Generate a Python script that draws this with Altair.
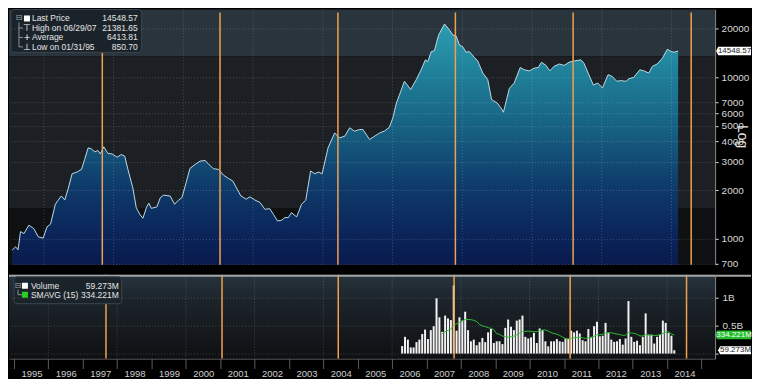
import altair as alt
import pandas as pd

# ---------------- data ----------------
price_t = [1995.09, 1995.19, 1995.26, 1995.33, 1995.43, 1995.57, 1995.71, 1995.84, 1995.98,
           1996.09, 1996.19, 1996.33, 1996.41, 1996.50, 1996.60, 1996.70, 1996.81, 1996.95,
           1997.08, 1997.17, 1997.27, 1997.36, 1997.46, 1997.55, 1997.62, 1997.72, 1997.84, 1997.95,
           1998.10, 1998.22, 1998.32, 1998.41, 1998.55, 1998.65, 1998.75, 1998.84, 1998.94,
           1999.01, 1999.08, 1999.24, 1999.34, 1999.43, 1999.62, 1999.75, 1999.86, 1999.96,
           2000.08, 2000.19, 2000.34, 2000.48, 2000.62, 2000.72, 2000.86,
           2001.01, 2001.15, 2001.29, 2001.42, 2001.51, 2001.65, 2001.80, 2001.91,
           2002.05, 2002.20, 2002.34, 2002.48, 2002.58, 2002.70, 2002.82, 2002.91,
           2003.01, 2003.10, 2003.25, 2003.39, 2003.51, 2003.65, 2003.77, 2003.88, 2003.98,
           2004.15, 2004.34, 2004.48, 2004.63, 2004.77, 2004.91,
           2005.06, 2005.15, 2005.34, 2005.63, 2005.77, 2005.91,
           2006.01, 2006.11, 2006.20, 2006.34, 2006.52, 2006.68, 2006.82, 2006.94,
           2007.01, 2007.11, 2007.20, 2007.32, 2007.49, 2007.63, 2007.73, 2007.82, 2007.92,
           2008.01, 2008.11, 2008.20, 2008.35, 2008.44, 2008.59, 2008.73, 2008.84, 2009.00,
           2009.11, 2009.18, 2009.35, 2009.49, 2009.66, 2009.78, 2009.92,
           2010.06, 2010.18, 2010.27, 2010.40, 2010.51, 2010.63, 2010.78, 2010.92,
           2011.06, 2011.21, 2011.40, 2011.49, 2011.61, 2011.76, 2011.88,
           2012.02, 2012.18, 2012.30, 2012.43, 2012.54, 2012.69, 2012.78, 2012.92,
           2013.09, 2013.21, 2013.35, 2013.45, 2013.59, 2013.74, 2013.88, 2013.99,
           2014.07, 2014.19]
price_v = [851, 893, 855, 1109, 1078, 1215, 1158, 1029, 1010,
           1186, 1232, 1638, 1735, 1843, 1741, 2055, 2530, 2592,
           2693, 3101, 3660, 3609, 3455, 3525, 3358, 3713, 3377, 3358,
           3203, 3328, 3250, 2693, 2073, 1560, 1420, 1342, 1560,
           1663, 1545, 1576, 1800, 1864, 1843, 1638, 1735, 1800,
           2228, 2732, 2891, 3028, 3058, 2913, 2717,
           2693, 2483, 2368, 2280, 2093, 1843, 1760, 1820,
           1741, 1677, 1524, 1538, 1420, 1291, 1304, 1354,
           1354, 1453, 1367, 1638, 1735, 2630, 2530, 2592, 2530,
           3660, 4527, 4219, 4322, 4870, 4640,
           4752, 4752, 4125, 4527, 4651, 4918,
           5627, 6938, 7809, 9450, 8409, 9679, 11130, 12825,
           12520, 14438, 14580, 18252, 21382, 19660, 18252, 18070, 15840,
           15480, 14290, 14438, 13260, 12640, 10620, 9680, 7280, 6938,
           6463, 6080, 8535, 9230, 11500, 11130, 10960,
           11390, 11500, 12400, 11850, 10960, 11690, 12090, 11850,
           12400, 12640, 12825, 12220, 10620, 8950, 9230,
           8600, 10380, 10130, 9450, 9540, 9450, 9810, 10000,
           11130, 10960, 10620, 11690, 12090, 13150, 14920, 14438,
           14290, 14549]

vol_first_month = "2006-04-01"
volume_b = [0.135, 0.30, 0.25, 0.11, 0.11, 0.205, 0.25, 0.35, 0.43, 0.26, 0.42, 0.49,
            0.99, 0.65, 0.39, 0.68, 0.63, 0.60, 1.22, 0.41, 0.65, 0.59, 0.75, 0.42,
            0.22, 0.25, 0.15, 0.205, 0.28, 0.205, 0.38, 0.44, 0.19, 0.22, 0.22, 0.17,
            0.46, 0.61, 0.48, 0.42, 0.59, 0.61, 0.68, 0.30, 0.27, 0.29, 0.37, 0.19,
            0.45, 0.42, 0.22, 0.13, 0.22, 0.22, 0.26, 0.22, 0.21, 0.27, 0.26, 0.41,
            0.38, 0.41, 0.36, 0.24, 0.22, 0.44, 0.29, 0.49, 0.57, 0.31, 0.32, 0.55,
            0.37, 0.25, 0.21, 0.22, 0.26, 0.16, 0.27, 0.94, 0.30, 0.21, 0.23, 0.15,
            0.30, 0.72, 0.34, 0.34, 0.18, 0.30, 0.34, 0.59, 0.55, 0.37, 0.32, 0.059]

orange_t = [1997.676, 2001.052, 2004.433, 2007.802, 2011.178, 2014.564]
year_ticks = list(range(1995, 2016))
grid_years = list(range(1996, 2016, 2))
price_ticks = [700, 1000, 2000, 3000, 4000, 5000, 6000, 7000, 10000, 20000]
vol_ticks = [0, 0.5, 1]

legend_labels = ["Last Price", "High on 06/29/07", "Average", "Low on 01/31/95"]
legend_values = ["14548.57", "21381.65", "6413.81", "850.70"]
price_last = 14548.57
vol_legend_labels = ["Volume", "SMAVG (15)"]
vol_legend_values = ["59.273M", "334.221M"]
vol_last = [0.059273, 0.334221]

# ---------------- tables ----------------
price_df = pd.DataFrame({"t": price_t, "price": price_v})
months = pd.date_range(vol_first_month, periods=len(volume_b), freq="MS")
vol_df = pd.DataFrame({"t": months.year + (months.month - 0.5) / 12.0,
                       "vol": volume_b})
vol_df["zero"] = 0.0
orange_df = pd.DataFrame({"t": orange_t})
grid_df = pd.DataFrame({"t": grid_years})

FONT = "Liberation Sans, Arial, sans-serif"
W, PH, VH = 708, 256, 84
DUMMY = alt.Data(values=[{}])
TAG = "M-1,0L-0.88,-0.24L1,-0.24L1,0.24L-0.88,0.24Z"
LEG_FS = 8.5


def vtext(x, y, s, color="#e4e4e4", size=LEG_FS, align="left", font=FONT):
    return alt.Chart(DUMMY).mark_text(text=s, color=color, fontSize=size, align=align,
                                      baseline="middle", font=font).encode(
        x=alt.value(x), y=alt.value(y))


def vrect(x0, x1, y0, y1, **kw):
    return alt.Chart(DUMMY).mark_rect(**kw).encode(
        x=alt.value(x0), x2=alt.value(x1), y=alt.value(y0), y2=alt.value(y1))


def vrule(x0, x1, y0, y1, **kw):
    return alt.Chart(DUMMY).mark_rule(**kw).encode(
        x=alt.value(x0), x2=alt.value(x1), y=alt.value(y0), y2=alt.value(y1))


xs = alt.Scale(domain=[1995.0, 2015.25], nice=False, zero=False)
X_na = alt.X("t:Q", scale=xs, axis=None)

# ---------------- price panel ----------------
pscale = alt.Scale(type="log", domain=[691, 26290], nice=False)
p_axis = alt.Axis(orient="right", values=price_ticks, format="d", grid=True,
                  gridColor="#ffffff", gridOpacity=0.2, gridDash=[1, 2],
                  domainColor="#8a8a8a", tickSize=3, tickColor="#dddddd",
                  labelColor="#d8d8d8", labelFontSize=10, labelFont=FONT, labelPadding=3,
                  labelOverlap=False, title="Log", titleAngle=90, titleFontSize=14,
                  titleFontWeight="normal", titleColor="#e8e8e8", titleFont=FONT,
                  titleX=26, titleY=127, titleAlign="center", titleBaseline="middle",
                  zindex=1)
Yp = alt.Y("price:Q", scale=pscale, axis=p_axis, stack=None)

area_grad = alt.Gradient(gradient="linear", x1=0, x2=0, y1=0, y2=1, stops=[
    alt.GradientStop(color="#2c9db3", offset=0),
    alt.GradientStop(color="#1f8199", offset=0.2),
    alt.GradientStop(color="#165e80", offset=0.45),
    alt.GradientStop(color="#0e3a6a", offset=0.68),
    alt.GradientStop(color="#0a2459", offset=0.88),
    alt.GradientStop(color="#0a1a4c", offset=1)])

base_p = alt.Chart(price_df)
p_layers = [
    vrect(0, W, 0, 47, fill="#29343d"),
    vrect(0, W, 47, 199, fill="#1c2024"),
    vrect(0, W, 199, PH, fill="#0f1012"),
    base_p.mark_area(color=area_grad, opacity=1).encode(x=X_na, y=Yp, y2=alt.value(PH)),
    base_p.mark_line(color="#bcd9e3", strokeWidth=1).encode(x=X_na, y=Yp),
    alt.Chart(grid_df).mark_rule(color="white", opacity=0.2, strokeDash=[1, 2]).encode(x=X_na),
    alt.Chart(orange_df).mark_rule(color="#f3a04c", strokeWidth=1.5).encode(
        x=X_na, y=alt.value(3), y2=alt.value(PH)),
]
last_df = pd.DataFrame({"price": [price_last], "label": [legend_values[0]]})
p_layers += [
    alt.Chart(last_df).mark_point(shape=TAG, size=35 ** 2, filled=True, color="white",
                                  opacity=1).encode(x=alt.value(W + 18.5), y=Yp),
    alt.Chart(last_df).mark_text(color="#1a1a1a", fontSize=8, font=FONT).encode(
        x=alt.value(W + 19.5), y=Yp, text="label:N"),
]
# legend box
rows_y = [9, 18.5, 28, 37.5]
icons = [None, "\u22a4", "+", "\u22a5"]
p_layers += [vrect(2, 133, 0, 43, fill="#1b232a", stroke="#3a4650", strokeWidth=1, cornerRadius=3),
             vtext(10, rows_y[0], "\u229f", color="#9aa4ac", size=8, align="center", font="DejaVu Sans"),
             vrect(15, 21, rows_y[0] - 3, rows_y[0] + 3, fill="white"),
             vrule(10, 10, rows_y[0] + 4, rows_y[3], color="#8a949c")]
for i, (lab, val) in enumerate(zip(legend_labels, legend_values)):
    y = rows_y[i]
    if icons[i]:
        p_layers.append(vrule(10, 14, y, y, color="#8a949c"))
        p_layers.append(vtext(18, y, icons[i], color="white", size=9, align="center", font="DejaVu Sans"))
    p_layers.append(vtext(23, y, lab))
    p_layers.append(vtext(129, y, val, align="right"))

price_panel = alt.layer(*p_layers).properties(width=W, height=PH)

# ---------------- volume panel ----------------
vscale = alt.Scale(domain=[-0.089, 1.411], nice=False, zero=False)
v_axis = alt.Axis(orient="right", values=vol_ticks,
                  labelExpr="datum.value == 1 ? '1B' : (datum.value == 0.5 ? '0.5B' : '')",
                  grid=True, gridColor="#ffffff", gridOpacity=0.2, gridDash=[1, 2],
                  domainColor="#8a8a8a", tickSize=3, tickColor="#dddddd",
                  labelColor="#d8d8d8", labelFontSize=10, labelFont=FONT, labelPadding=4,
                  labelOverlap=False, title=None, zindex=1)
x_axis = alt.Axis(values=year_ticks,
                  labelExpr="datum.value < 2015 ? toString(datum.value) : ''",
                  labelOffset=17.48, tickSize=10, tickColor="#5c5c5c", domainColor="#6e6e6e",
                  labelColor="#cfcfcf", labelFontSize=9.5, labelFont=FONT, labelPadding=0,
                  labelFlush=False, labelOverlap=False, grid=False, title=None)
Xv = alt.X("t:Q", scale=xs, axis=x_axis)
Yv = alt.Y("vol:Q", scale=vscale, axis=v_axis)

vol_grad = alt.Gradient(gradient="linear", x1=0, x2=0, y1=0, y2=1, stops=[
    alt.GradientStop(color="#27343e", offset=0),
    alt.GradientStop(color="#1c242b", offset=0.3),
    alt.GradientStop(color="#15191d", offset=0.7),
    alt.GradientStop(color="#0e1012", offset=1)])

base_v = alt.Chart(vol_df)
v_layers = [
    vrect(0, W, 0, VH, fill=vol_grad),
    alt.Chart(grid_df).mark_rule(color="white", opacity=0.2, strokeDash=[1, 2]).encode(x=Xv),
    base_v.mark_bar(color="#f2f2f2", size=2).encode(x=Xv, y=Yv, y2="zero:Q"),
    base_v.transform_window(sma="mean(vol)", frame=[-14, 0], sort=[{"field": "t"}])
          .transform_window(idx="row_number()", sort=[{"field": "t"}])
          .transform_filter("datum.idx >= 15")
          .mark_line(color="#2fb832", strokeWidth=1).encode(x=Xv, y=alt.Y("sma:Q", scale=vscale, axis=v_axis)),
    alt.Chart(orange_df).mark_rule(color="#f3a04c", strokeWidth=1.5).encode(
        x=Xv, y=alt.value(0), y2=alt.value(VH)),
    vrule(0, 744, 1, 1, color="#a6a6a6", strokeWidth=2),
]
box_df = pd.DataFrame({"vol": vol_last, "label": vol_legend_values})
v_layers += [
    alt.Chart(box_df.iloc[[1]]).mark_point(shape=TAG, size=36 ** 2, filled=True, color="#22c02c",
                                           opacity=1).encode(x=alt.value(W + 18), y=Yv),
    alt.Chart(box_df.iloc[[1]]).mark_text(color="white", fontSize=8, font=FONT).encode(
        x=alt.value(W + 19), y=Yv, text="label:N"),
    alt.Chart(box_df.iloc[[0]]).mark_point(shape=TAG, size=33 ** 2, filled=True, color="white",
                                           opacity=1).encode(x=alt.value(W + 19.5), y=Yv),
    alt.Chart(box_df.iloc[[0]]).mark_text(color="#1a1a1a", fontSize=8, font=FONT).encode(
        x=alt.value(W + 20.5), y=Yv, text="label:N"),
]
vrows = [11, 20]
v_layers += [vrect(5, 113, 2, 29, fill="#1b232a", stroke="#3a4650", strokeWidth=1, cornerRadius=3),
             vtext(9, vrows[0], "\u229f", color="#9aa4ac", size=8, align="center", font="DejaVu Sans"),
             vrect(13, 19, vrows[0] - 3, vrows[0] + 3, fill="white"),
             vrect(13, 19, vrows[1] - 3, vrows[1] + 3, fill="#25d125"),
             vrule(9, 9, vrows[0] + 4, vrows[1], color="#8a949c"),
             vrule(9, 13, vrows[1], vrows[1], color="#8a949c")]
for i, (lab, val) in enumerate(zip(vol_legend_labels, vol_legend_values)):
    v_layers.append(vtext(22, vrows[i], lab))
    v_layers.append(vtext(110, vrows[i], val, align="right"))

vol_panel = alt.layer(*v_layers).properties(width=W, height=VH)

chart = (alt.vconcat(price_panel, vol_panel, spacing=4)
         .resolve_scale(y="independent")
         .properties(background="black", padding=0)
         .configure_view(stroke=None))

chart.save("out.html", embed_options={"renderer": "svg", "actions": False})
